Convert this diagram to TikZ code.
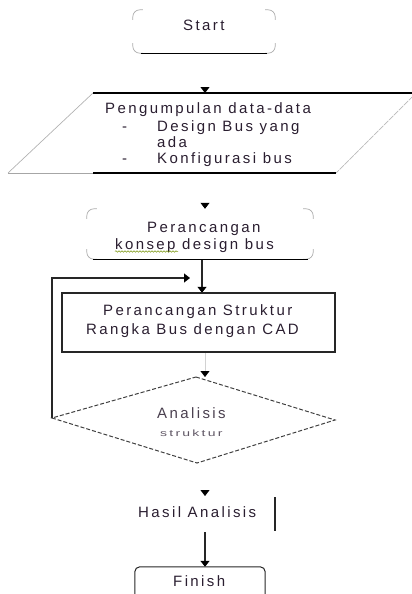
\documentclass[tikz,border=0pt]{standalone}
\usepackage{fontspec}
\setmainfont{Liberation Sans}[LetterSpace=16]
\usetikzlibrary{arrows.meta,calc,decorations.pathmorphing}
\definecolor{ink}{HTML}{2A1E30}
\begin{document}
\begin{tikzpicture}[x=1pt,y=-1pt,
  txt/.style={font=\fontsize{15}{18}\selectfont, text=ink, inner sep=0pt, anchor=base west},
  shapebox/.style={inner sep=0pt},
  corner/.style={gray!65, line width=0.7pt, rounded corners=7pt},
  baseline/.style={black, line width=1.3pt},
  tipped/.style={-{Triangle[width=9pt,length=6pt,color=black]}},
  hidden/.style={white, line width=0.8pt},
  faint/.style={gray!35, line width=0.8pt},
  dark/.style={black!85, line width=1.2pt}]
\useasboundingbox (0,0) rectangle (412,594);

% ---------- named shapes / anchors ----------
\node[shapebox, minimum width=142pt, minimum height=43pt] (start) at (204,31.5) {};
\coordinate (paratop) at (205,93);
\coordinate (parabot) at (205,173);
\node[shapebox, minimum width=226pt, minimum height=50pt] (concept) at (200,234) {};
\node[shapebox, minimum width=273pt, minimum height=59pt] (cad) at (198.5,322.5) {};
\coordinate (dT) at (196,377);
\coordinate (dR) at (335,420);
\coordinate (dB) at (197,463);
\coordinate (dL) at (52,418);
\coordinate (fb) at (190,278);
\coordinate (hasiltop) at (205,496);
\coordinate (hasilbot) at (205,532);
\node[shapebox, minimum width=130pt, minimum height=40pt] (finish) at (200,587) {};
\coordinate (bar1) at (275,497);
\coordinate (bar2) at (275,531);

% ---------- connectors ----------
\draw[hidden,tipped] (start.south -| paratop) -- (paratop);
\draw[hidden,tipped] (parabot) -- (parabot |- concept.north);
\draw[dark,tipped] ([xshift=2pt]concept.south) -- ([xshift=2pt]concept.south |- cad.north);
\draw[faint,tipped] ([xshift=6.5pt]cad.south) -- ([xshift=6.5pt]cad.south |- dT);
\draw[dark,tipped] (dL) -- (dL |- fb) -- (fb);
\draw[hidden,tipped] (dB -| hasiltop) -- (hasiltop);
\draw[dark,tipped] (hasilbot) -- (hasilbot |- finish.north);
\draw[dark] (bar1) -- (bar2);

% ---------- Start box ----------
\draw[corner] ($(start.north west)+(0,10)$) -- (start.north west) -- ++(10,0);
\draw[corner] ($(start.north east)+(0,10)$) -- (start.north east) -- ++(-10,0);
\draw[corner] ($(start.south west)+(0,-10)$) -- (start.south west) -- ++(10,0);
\draw[corner] ($(start.south east)+(0,-10)$) -- (start.south east) -- ++(-10,0);
\draw[baseline] ($(start.south west)+(8,0)$) -- ($(start.south east)+(-8,0)$);
\node[txt] (starttext) at (183,31) {Start};

% ---------- Parallelogram ----------
\draw[gray!60, line width=0.7pt] (8,173) -- (93,93);
\draw[gray!55, line width=0.7pt, dash pattern=on 6pt off 1pt] (418,91) -- (336,173);
\draw[baseline] (93,93) -- (418,93);
\draw[gray!70, line width=1pt] (8,173) -- (93,173);
\draw[baseline] (93,173) -- (336,173);
\node[txt] (p1) at (105,113) {Pengumpulan data-data};
\node[txt] (p2d) at (122,131) {-};
\node[txt] (p2) at (157,131) {Design Bus yang};
\node[txt] (p3) at (157,147) {ada};
\node[txt] (p4d) at (122,163) {-};
\node[txt] (p4) at (157,163) {Konfigurasi bus};

% ---------- Concept box ----------
\draw[corner] ($(concept.north west)+(0,10)$) -- (concept.north west) -- ++(10,0);
\draw[corner] ($(concept.north east)+(0,10)$) -- (concept.north east) -- ++(-10,0);
\draw[corner] ($(concept.south west)+(0,-10)$) -- (concept.south west) -- ++(10,0);
\draw[corner] ($(concept.south east)+(0,-10)$) -- (concept.south east) -- ++(-10,0);
\draw[baseline] ($(concept.south west)+(6,0)$) -- ($(concept.south east)+(-5,0)$);
\node[txt] (c1) at (147,232) {Perancangan};
\node[txt] (c2) at (115,249) {konsep design bus};
\draw[olive!70!green, line width=0.5pt, decorate,
  decoration={snake, amplitude=0.8pt, segment length=3pt}] (115,251.5) -- (178,251.5);

% ---------- CAD rectangle ----------
\draw[black!85, line width=1.6pt] (cad.north west) rectangle (cad.south east);
\node[txt] (r1) at (103,315) {Perancangan Struktur};
\node[txt] (r2) at (86,334) {Rangka Bus dengan CAD};

% ---------- Diamond ----------
\draw[black!75, line width=1pt, dash pattern=on 4pt off 2pt] (dT) -- (dR) -- (dB) -- (dL) -- cycle;
\node[txt, text=ink!85] (a1) at (157,418) {Analisis};
\node[txt, text=ink!75] (a2) at (160,436) {\scalebox{1}[0.65]{\fontsize{14}{16}\selectfont struktur}};

% ---------- Hasil & Finish ----------
\node[txt] (hasil) at (138,517) {Hasil Analisis};
\draw[black!85, line width=1pt, rounded corners=5pt] (finish.south west) -- (finish.north west) -- (finish.north east) -- (finish.south east);
\node[txt] (fin) at (173,586) {Finish};
\end{tikzpicture}
\end{document}
